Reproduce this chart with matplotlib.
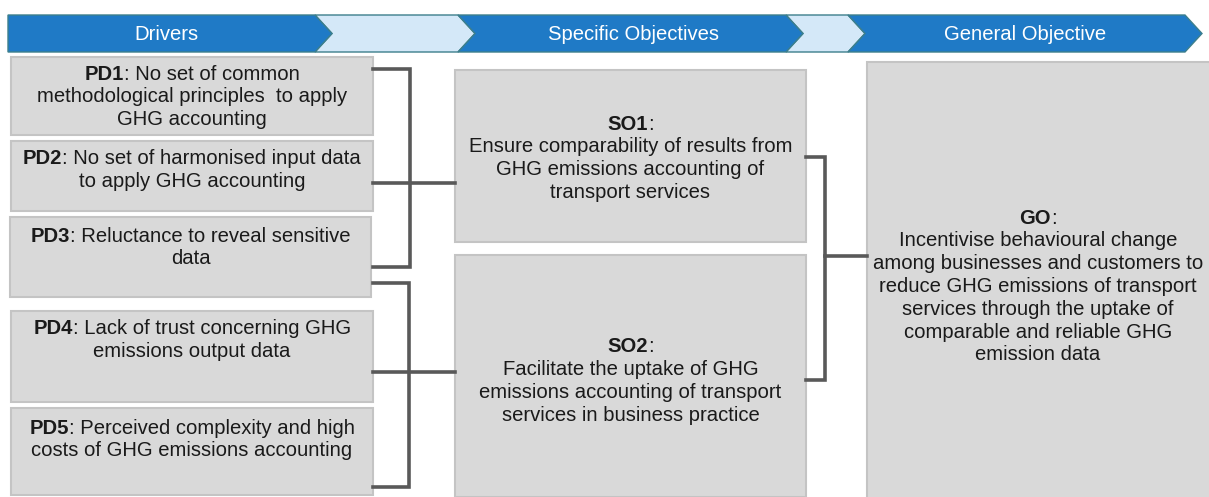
import matplotlib
matplotlib.use("Agg")
import matplotlib.pyplot as plt
from matplotlib.patches import Polygon, Rectangle

plt.rcParams['font.family'] = ['Liberation Sans', 'DejaVu Sans']

# ---- content ----
stage_labels = ["Drivers", "", "Specific Objectives", "", "General Objective"]
driver_ids = ["PD1", "PD2", "PD3", "PD4", "PD5"]
driver_lines = [
    [": No set of common", "methodological principles  to apply", "GHG accounting"],
    [": No set of harmonised input data", "to apply GHG accounting"],
    [": Reluctance to reveal sensitive", "data"],
    [": Lack of trust concerning GHG", "emissions output data"],
    [": Perceived complexity and high", "costs of GHG emissions accounting"],
]
so_ids = ["SO1", "SO2"]
so_lines = [
    ["Ensure comparability of results from", "GHG emissions accounting of",
     "transport services"],
    ["Facilitate the uptake of GHG", "emissions accounting of transport",
     "services in business practice"],
]
go_id = "GO"
go_lines = ["Incentivise behavioural change", "among businesses and customers to",
            "reduce GHG emissions of transport", "services through the uptake of",
            "comparable and reliable GHG", "emission data"]

# ---- layout (pixel coords, y down) ----
W, H = 1209, 497
stage_x = [(8, 315), (315, 458), (458, 786), (786, 848), (848, 1185)]
stage_text_x = [166, None, 633, None, 1025]
band_top, band_bot, tip = 15, 52, 17
dark_blue, light_blue = '#1f7ac6', '#d4e8f8'
edge_col = '#3d7f8c'

driver_boxes = [(11, 57, 373, 135), (11, 141, 373, 211), (10, 217, 371, 297),
                (11, 311, 373, 402), (11, 408, 373, 495)]
driver_first_y = [73, 158, 235, 328, 427]
so_boxes = [(455, 70, 806, 242), (455, 255, 806, 497)]
so_first_y = [123, 346]
go_box = (867, 62, 1212, 500)
go_first_y, go_cx = 217, 1038

box_fill, box_edge = '#d9d9d9', '#c4c4c4'
line_col = '#595959'
txt_col = '#1a1a1a'
fs = 14.6
step = 22.8
base_off = 6.5

fig = plt.figure(figsize=(W / 100, H / 100), dpi=100)
ax = fig.add_axes([0, 0, 1, 1])
ax.set_xlim(0, W)
ax.set_ylim(H, 0)
ax.axis('off')
renderer = fig.canvas.get_renderer()
to_data = ax.transData.inverted()


def width_px(t):
    bb = t.get_window_extent(renderer=renderer)
    return bb.width


def mixed_line(cx, y, bold, rest):
    """Centered line with a bold prefix followed by regular text."""
    tb = ax.text(0, y + base_off, bold, fontsize=fs, fontweight='bold',
                 ha='left', va='baseline', color=txt_col, zorder=3)
    tr = ax.text(0, y + base_off, rest, fontsize=fs, ha='left', va='baseline',
                 color=txt_col, zorder=3)
    wb, wr = width_px(tb), width_px(tr)
    x0 = cx - (wb + wr) / 2
    tb.set_x(x0)
    tr.set_x(x0 + wb)


def plain_line(cx, y, s):
    ax.text(cx, y + base_off, s, fontsize=fs, ha='center', va='baseline',
            color=txt_col, zorder=3)


mid = (band_top + band_bot) / 2
for i, ((x0, x1), lab) in enumerate(zip(stage_x, stage_labels)):
    left_notch = x0 if i == 0 else x0 + tip
    pts = [(x0, band_top), (x1, band_top), (x1 + tip, mid), (x1, band_bot),
           (x0, band_bot), (left_notch, mid)]
    col = dark_blue if i % 2 == 0 else light_blue
    ax.add_patch(Polygon(pts, closed=True, facecolor=col, edgecolor=edge_col,
                         lw=1.0, zorder=2 if i % 2 == 0 else 1))
    if lab:
        ax.text(stage_text_x[i], mid + base_off, lab, color='white', fontsize=fs,
                ha='center', va='baseline', zorder=3)


def box(b):
    x0, y0, x1, y1 = b
    ax.add_patch(Rectangle((x0, y0), x1 - x0, y1 - y0, facecolor=box_fill,
                           edgecolor=box_edge, lw=1.5, zorder=1))


for b, pid, lines, y0 in zip(driver_boxes, driver_ids, driver_lines, driver_first_y):
    box(b)
    cx = (b[0] + b[2]) / 2
    mixed_line(cx, y0, pid, lines[0])
    for k, s in enumerate(lines[1:], start=1):
        plain_line(cx, y0 + k * step, s)

for b, sid, lines, y0 in zip(so_boxes, so_ids, so_lines, so_first_y):
    box(b)
    cx = (b[0] + b[2]) / 2
    mixed_line(cx, y0, sid, ":")
    for k, s in enumerate(lines, start=1):
        plain_line(cx, y0 + k * step, s)

box(go_box)
mixed_line(go_cx, go_first_y, go_id, ":")
for k, s in enumerate(go_lines, start=1):
    plain_line(go_cx, go_first_y + k * step, s)

lk = dict(color=line_col, lw=2.6, solid_joinstyle='miter', zorder=2)
# bracket PD1-PD3 -> SO1
ax.plot([373, 410, 410, 373], [69, 69, 267, 267], **lk)
ax.plot([373, 455], [183, 183], **lk)
# bracket PD3-PD5 -> SO2
ax.plot([373, 409, 409, 373], [283, 283, 487, 487], **lk)
ax.plot([373, 455], [372, 372], **lk)
# bracket SO1-SO2 -> GO
ax.plot([806, 825, 825, 806], [157, 157, 380, 380], **lk)
ax.plot([825, 867], [256, 256], **lk)

fig.savefig("out.png", dpi=100)
